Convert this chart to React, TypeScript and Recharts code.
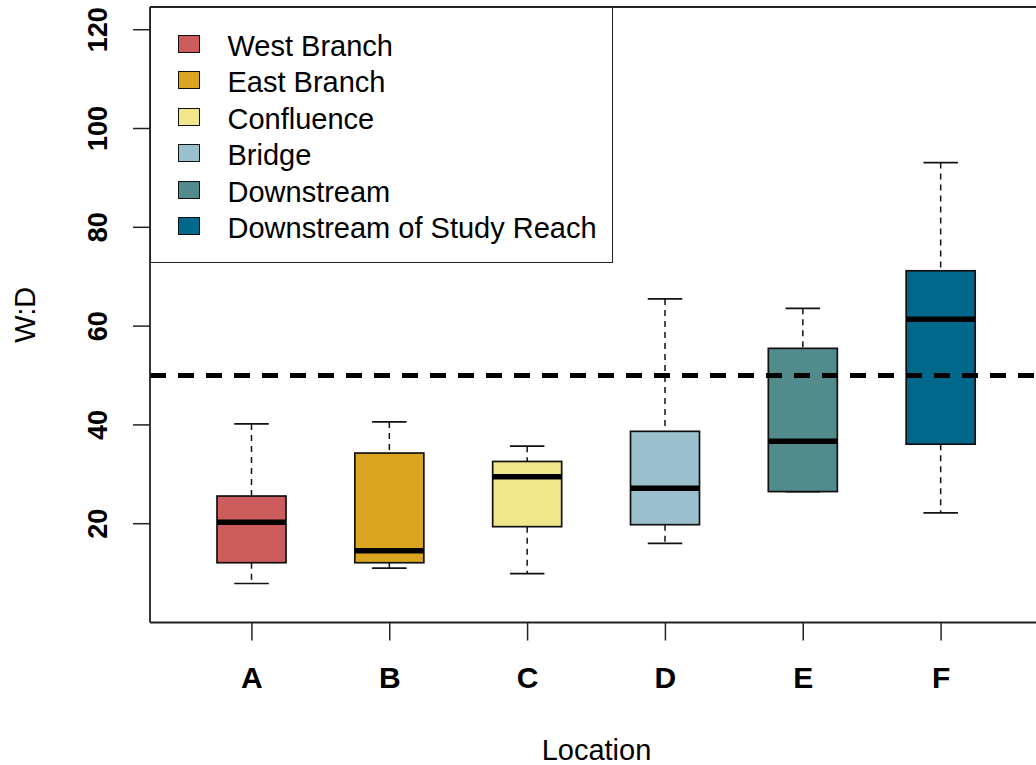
import {
    ComposedChart,
    Bar,
    XAxis,
    YAxis,
    ReferenceLine,
    Legend,
    Label
} from 'recharts'

// boxplot stats per location
const locations = ['A', 'B', 'C', 'D', 'E', 'F']
const sites = ['West Branch', 'East Branch', 'Confluence', 'Bridge', 'Downstream', 'Downstream of Study Reach']
const lowerWhisker = [7.9, 11.0, 9.9, 16.0, 26.5, 22.2]
const q1 = [12.1, 12.1, 19.4, 19.8, 26.5, 36.1]
const median = [20.3, 14.5, 29.5, 27.2, 36.7, 61.4]
const q3 = [25.6, 34.3, 32.6, 38.7, 55.5, 71.2]
const upperWhisker = [40.2, 40.6, 35.7, 65.5, 63.6, 93.1]
const fills = ['#CD5C5C', '#DAA520', '#F0E68C', '#9AC0CD', '#528B8B', '#00688B']
const yTicks = [20, 40, 60, 80, 100, 120]
const threshold = 50
const yDomain: [number, number] = [0, 124.6]

const chartData = locations.map((loc, i) => ({
    loc,
    range: [lowerWhisker[i], upperWhisker[i]],
    lo: lowerWhisker[i],
    q1: q1[i],
    med: median[i],
    q3: q3[i],
    hi: upperWhisker[i],
    fill: fills[i]
}))

const FONT = '"Liberation Sans", Arial, Helvetica, sans-serif'

function BoxShape(props: any) {
    const { x, y, width, height, payload } = props
    const top = Math.min(y, y + height)
    const bottom = Math.max(y, y + height)
    const span = payload.hi - payload.lo
    // map a value into pixels using the bar's own (scaled) extent
    const py = (v: number) => (span === 0 ? top : top + ((payload.hi - v) / span) * (bottom - top))
    const cx = x + width / 2
    const cap = width / 2
    return (
        <g>
            <line x1={cx} x2={cx} y1={py(payload.hi)} y2={py(payload.q3)} stroke="#111" strokeWidth={1.5} strokeDasharray="6 5" />
            <line x1={cx} x2={cx} y1={py(payload.q1)} y2={py(payload.lo)} stroke="#111" strokeWidth={1.5} strokeDasharray="6 5" />
            <line x1={cx - cap / 2} x2={cx + cap / 2} y1={py(payload.hi)} y2={py(payload.hi)} stroke="#111" strokeWidth={1.7} />
            <line x1={cx - cap / 2} x2={cx + cap / 2} y1={py(payload.lo)} y2={py(payload.lo)} stroke="#111" strokeWidth={1.7} />
            <rect
                x={x}
                y={py(payload.q3)}
                width={width}
                height={py(payload.q1) - py(payload.q3)}
                fill={payload.fill}
                stroke="#111"
                strokeWidth={1.7}
            />
            <line x1={x} x2={x + width} y1={py(payload.med)} y2={py(payload.med)} stroke="#000" strokeWidth={5.5} />
        </g>
    )
}

function XTick(props: any) {
    const { x, y, payload } = props
    return (
        <text x={x} y={y + 45} textAnchor="middle" fontFamily={FONT} fontSize={30} fontWeight="bold" fill="#000">
            {payload.value}
        </text>
    )
}

function YTick(props: any) {
    const { x, y, payload } = props
    const bx = x - 24
    return (
        <text
            x={bx}
            y={y}
            transform={`rotate(-90 ${bx} ${y})`}
            textAnchor="middle"
            fontFamily={FONT}
            fontSize={27}
            fontWeight="bold"
            fill="#000"
        >
            {payload.value}
        </text>
    )
}

function LegendBox() {
    return (
        <div
            style={{
                width: 463,
                height: 256,
                boxSizing: 'border-box',
                border: '1.5px solid #222',
                background: '#fff',
                paddingTop: 17.5,
                fontFamily: FONT
            }}
        >
            {sites.map((s, i) => (
                <div key={s} style={{ display: 'flex', alignItems: 'center', height: 36.5 }}>
                    <div
                        style={{
                            marginLeft: 26.5,
                            width: 22,
                            height: 18,
                            boxSizing: 'border-box',
                            border: '1.5px solid #111',
                            background: fills[i]
                        }}
                    />
                    <span style={{ marginLeft: 28, fontSize: 29, lineHeight: '36.5px', position: 'relative', top: 2, color: '#000' }}>
                        {s}
                    </span>
                </div>
            ))}
        </div>
    )
}

export default function App() {
    return (
        <div style={{ position: 'fixed', left: 0, top: 0, width: 1036, height: 765, overflow: 'hidden', background: '#fff' }}>
            <ComposedChart
                width={1060}
                height={765}
                data={chartData}
                margin={{ top: 7, right: 17, bottom: 0, left: 0 }}
            >
                <XAxis
                    dataKey="loc"
                    height={142.5}
                    padding={{ left: 33, right: 33 }}
                    tickSize={18}
                    tickLine={{ stroke: '#222', strokeWidth: 1.5 }}
                    axisLine={{ stroke: '#222', strokeWidth: 1.8 }}
                    tick={<XTick />}
                    interval={0}
                >
                    <Label
                        content={(p: any) => {
                            const vb = p.viewBox
                            return (
                                <text x={vb.x + vb.width / 2} y={vb.y + 137.5} textAnchor="middle" fontFamily={FONT} fontSize={29} fill="#000">
                                    Location
                                </text>
                            )
                        }}
                    />
                </XAxis>
                <YAxis
                    width={150}
                    domain={yDomain}
                    ticks={yTicks}
                    allowDataOverflow
                    tickSize={17}
                    tickLine={{ stroke: '#222', strokeWidth: 1.5 }}
                    axisLine={{ stroke: '#222', strokeWidth: 1.8 }}
                    tick={<YTick />}
                >
                    <Label
                        content={(p: any) => {
                            const vb = p.viewBox
                            const cy = vb.y + vb.height / 2
                            return (
                                <text x={35} y={cy} transform={`rotate(-90 35 ${cy})`} textAnchor="middle" fontFamily={FONT} fontSize={29} fill="#000">
                                    W:D
                                </text>
                            )
                        }}
                    />
                </YAxis>
                <Bar dataKey="range" barSize={69} shape={<BoxShape />} isAnimationActive={false} />
                <ReferenceLine y={yDomain[1]} stroke="#222" strokeWidth={1.8} />
                <ReferenceLine y={threshold} stroke="#000" strokeWidth={5} strokeDasharray="16 12" />
                <Legend
                    layout="vertical"
                    align="center"
                    verticalAlign="middle"
                    wrapperStyle={{ left: 150, top: 7, width: 463, height: 256 }}
                    content={() => <LegendBox />}
                />
            </ComposedChart>
        </div>
    )
}
